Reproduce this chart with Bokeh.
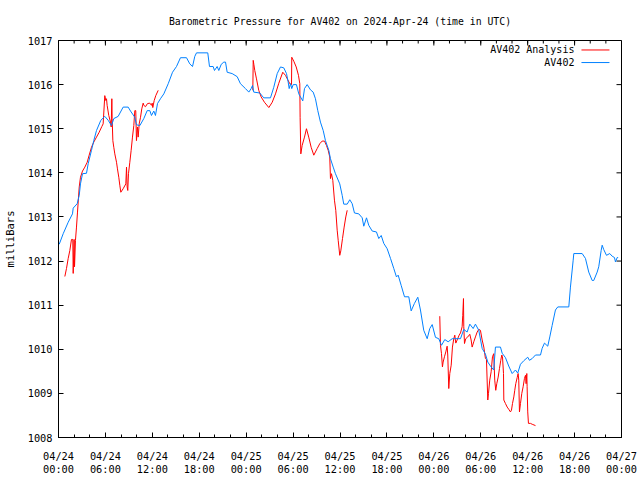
from bokeh.plotting import figure
from bokeh.models import FixedTicker, Label, Arrow, Range1d
from bokeh.embed import file_html
from bokeh.resources import INLINE

NaN = float("nan")

title_text = "Barometric Pressure for AV402 on 2024-Apr-24 (time in UTC)"
y_label = "milliBars"
series_names = ["AV402 Analysis", "AV402"]

# time axis: hours since 2024-04-24 00:00 UTC
x_tick_hours = [0, 6, 12, 18, 24, 30, 36, 42, 48, 54, 60, 66, 72]
x_tick_labels = ["04/24\n00:00", "04/24\n06:00", "04/24\n12:00", "04/24\n18:00",
                 "04/25\n00:00", "04/25\n06:00", "04/25\n12:00", "04/25\n18:00",
                 "04/26\n00:00", "04/26\n06:00", "04/26\n12:00", "04/26\n18:00",
                 "04/27\n00:00"]
x_minor_hours = list(range(0, 73, 2))
y_ticks = [1008, 1009, 1010, 1011, 1012, 1013, 1014, 1015, 1016, 1017]

# AV402 observed pressure
av_hours = [0.09, 0.60, 1.24, 1.79, 1.88, 2.39, 2.65, 2.81, 3.07, 3.58, 3.80, 4.22, 4.51, 4.86,
            5.41, 5.92, 6.36, 6.78, 7.07, 7.63, 8.27, 8.91, 9.21, 9.76, 9.97, 10.40, 10.91,
            11.34, 11.68, 11.89, 12.19, 12.40, 12.66, 13.04, 13.47, 14.03, 14.58, 15.09,
            15.60, 16.37, 16.79, 17.14, 17.43, 17.65, 19.09, 19.31, 19.78, 19.95, 20.29,
            20.50, 20.81, 21.14, 21.36, 21.57, 22.21, 22.85, 23.27, 23.91, 24.34, 24.64,
            24.81, 24.97, 25.74, 26.25, 27.11, 27.53, 27.97, 28.39, 28.81, 29.16, 29.37,
            29.50, 29.67, 29.83, 30.01, 30.43, 30.73, 30.95, 31.24, 31.46, 31.80, 32.23,
            32.57, 32.86, 33.16, 33.50, 33.85, 34.14, 34.57, 34.78, 35.13, 35.42, 35.97,
            36.28, 36.48, 36.92, 37.25, 37.56, 37.85, 38.40, 38.84, 39.04, 39.39, 39.68,
            40.12, 40.66, 40.96, 41.27, 41.60, 42.03, 42.46, 42.88, 43.22, 43.44, 43.82,
            44.25, 44.80, 45.10, 45.52, 45.95, 46.29, 46.71, 47.15, 47.48, 47.79, 48.21,
            48.63, 48.98, 49.40, 49.83, 50.35, 51.41, 51.83, 52.26, 52.60, 53.03, 53.32,
            53.75, 54.18, 54.60, 54.90, 55.24, 55.66, 55.88, 56.52, 56.74, 57.16, 57.58,
            58.02, 58.44, 58.73, 59.08, 59.50, 60.01, 60.23, 60.58, 61.00, 61.64, 61.85,
            62.15, 62.57, 62.83, 63.13, 63.55, 63.85, 65.26, 65.47, 65.82, 65.90, 66.97,
            67.39, 67.81, 68.25, 68.45, 68.89, 69.09, 69.40, 69.53, 69.73, 70.08, 70.50,
            70.81, 71.10, 71.23, 71.45, 71.57]
av_mb = [1012.38, 1012.62, 1012.88, 1013.07, 1013.20, 1013.30, 1013.49, 1013.75, 1013.98,
         1013.99, 1014.21, 1014.51, 1014.73, 1014.96, 1015.19, 1015.28, 1015.19, 1015.07,
         1015.23, 1015.28, 1015.49, 1015.49, 1015.40, 1015.26, 1015.09, 1015.07, 1015.23,
         1015.41, 1015.41, 1015.30, 1015.40, 1015.30, 1015.57, 1015.68, 1015.79, 1016.02,
         1016.28, 1016.41, 1016.61, 1016.61, 1016.47, 1016.41, 1016.64, 1016.72, 1016.72,
         1016.41, 1016.41, 1016.32, 1016.41, 1016.32, 1016.46, 1016.51, 1016.51, 1016.28,
         1016.25, 1016.18, 1016.02, 1015.91, 1015.83, 1015.91, 1015.98, 1015.83, 1015.81,
         1015.70, 1015.70, 1015.94, 1016.25, 1016.40, 1016.38, 1016.25, 1016.06, 1015.91,
         1016.02, 1015.91, 1016.00, 1016.00, 1015.79, 1015.72, 1015.63, 1015.91, 1016.00,
         1015.88, 1015.83, 1015.68, 1015.41, 1015.15, 1014.96, 1014.73, 1014.51, 1014.32,
         1014.13, 1013.98, 1013.75, 1013.49, 1013.29, 1013.29, 1013.39, 1013.30, 1013.09,
         1013.07, 1012.98, 1012.79, 1012.98, 1012.81, 1012.68, 1012.66, 1012.51, 1012.58,
         1012.40, 1012.28, 1012.06, 1011.83, 1011.64, 1011.68, 1011.45, 1011.19, 1011.19,
         1010.87, 1011.04, 1011.18, 1010.89, 1010.43, 1010.24, 1010.47, 1010.56, 1010.27,
         1010.24, 1010.09, 1010.22, 1010.17, 1010.24, 1010.24, 1010.45, 1010.39, 1010.57,
         1010.47, 1010.57, 1010.43, 1010.02, 1009.89, 1009.71, 1009.62, 1009.53, 1010.05,
         1010.05, 1009.91, 1009.81, 1009.62, 1009.45, 1009.53, 1009.46, 1009.66, 1009.74,
         1009.82, 1009.75, 1009.79, 1009.87, 1009.87, 1010.02, 1010.14, 1010.07, 1010.28,
         1010.54, 1010.89, 1010.96, 1010.96, 1011.41, 1012.02, 1012.17, 1012.17, 1012.06,
         1011.75, 1011.56, 1011.56, 1011.75, 1011.87, 1012.24, 1012.36, 1012.26, 1012.13,
         1012.17, 1012.11, 1012.08, 1011.98, 1012.08, 1012.08]

# AV402 Analysis (NaN marks gaps between analysis runs)
an_hours = [0.81, 1.02, 1.24, 1.45, 1.66, 1.83, 1.88, 2.00, 2.05, 2.17, 2.30, 2.43, 2.56, 2.65,
            2.81, 3.07, 3.37, 3.67, 3.92, 4.22, 4.52, 4.86, 5.20, 5.54, 5.71, 5.92, 6.05, 6.14,
            6.22, 6.43, 6.65, 6.74, 6.82, 6.86, 6.95, 7.07, 7.20, 7.42, 7.54, 7.71, 7.84, 7.97,
            8.27, 8.61, 8.70, 8.78, 8.86, 8.95, 9.12, 9.29, 9.46, 9.63, 9.76, 9.88, 9.97,
            10.10, 10.19, 10.32, 10.49, 10.65, 10.83, 10.91, 11.13, 11.38, 11.68, 11.89,
            11.98, 12.06, 12.24, 12.44, 12.75, NaN,
            24.85, 24.90, 24.98, 25.10, 25.32, 25.61, 25.92, 26.34, 26.90, 27.33, 27.75,
            28.17, 28.68, 29.03, 29.32, 29.58, 29.80, 29.83, 30.09, 30.40, 30.69, 30.86,
            30.90, 30.99, 31.16, 31.46, 31.71, 32.00, 32.31, 32.65, 33.08, 33.41, 33.72,
            34.02, 34.27, 34.49, 34.69, 34.78, 34.91, 35.08, 35.29, 35.46, 35.64, 35.77,
            35.97, 36.10, 36.32, 36.53, 36.74, 36.92, NaN,
            48.76, 48.85, 48.98, 49.10, 49.19, 49.36, 49.53, 49.70, 49.78, 49.91, 50.04,
            50.22, 50.38, 50.55, 50.68, 50.81, 50.98, 51.24, 51.41, 51.62, 51.70, 51.79,
            51.83, 51.92, 52.08, 52.34, 52.60, 52.77, 52.90, 53.11, 53.32, 53.54, 53.75,
            53.96, 54.18, 54.39, 54.60, 54.73, 54.90, 54.99, 55.15, 55.33, 55.50, 55.66,
            55.79, 55.92, 56.05, 56.23, 56.39, 56.56, 56.69, 56.78, 56.91, 56.95, 57.16,
            57.38, 57.58, 57.80, 57.93, 58.06, 58.23, 58.35, 58.48, 58.66, 58.78, 58.86,
            58.95, 59.08, 59.25, 59.42, 59.59, 59.72, 59.80, 59.89, 59.93, 60.01, 60.10,
            60.36, 60.58, 61.00]
an_mb = [1011.65, 1011.83, 1012.06, 1012.24, 1012.49, 1012.49, 1011.72, 1012.49, 1011.87,
         1012.47, 1012.77, 1013.11, 1013.45, 1013.68, 1013.90, 1014.04, 1014.13, 1014.24,
         1014.40, 1014.58, 1014.70, 1014.81, 1014.92, 1015.05, 1015.11, 1015.75, 1015.64,
         1015.68, 1015.53, 1015.30, 1015.15, 1015.04, 1015.68, 1015.23, 1014.73, 1014.58,
         1014.43, 1014.24, 1014.09, 1013.90, 1013.72, 1013.56, 1013.64, 1013.75, 1014.13,
         1013.68, 1013.60, 1013.98, 1014.24, 1014.51, 1014.81, 1015.07, 1015.41, 1015.41,
         1014.73, 1015.04, 1014.81, 1015.11, 1015.26, 1015.45, 1015.58, 1015.53, 1015.50,
         1015.57, 1015.58, 1015.53, 1015.58, 1015.48, 1015.64, 1015.75, 1015.87, NaN,
         1015.87, 1016.55, 1016.46, 1016.32, 1016.13, 1015.87, 1015.72, 1015.60, 1015.48,
         1015.60, 1015.79, 1016.03, 1016.28, 1016.21, 1016.11, 1016.02, 1016.00, 1016.62,
         1016.53, 1016.40, 1016.21, 1016.02, 1015.26, 1014.43, 1014.62, 1014.81, 1015.00,
         1014.81, 1014.58, 1014.40, 1014.55, 1014.66, 1014.72, 1014.72, 1014.62, 1014.51,
         1014.36, 1013.87, 1013.98, 1013.83, 1013.38, 1013.15, 1012.70, 1012.47, 1012.13,
         1012.23, 1012.51, 1012.77, 1013.00, 1013.15, NaN,
         1010.75, 1010.09, 1009.90, 1009.60, 1009.71, 1009.83, 1009.94, 1010.07, 1009.87,
         1009.11, 1009.45, 1009.64, 1010.05, 1010.24, 1010.32, 1010.14, 1010.21, 1010.32,
         1010.37, 1010.51, 1010.77, 1011.15, 1010.51, 1010.13, 1010.24, 1010.28, 1010.34,
         1010.21, 1010.05, 1010.17, 1010.28, 1010.39, 1010.45, 1010.43, 1010.21, 1010.05,
         1009.79, 1009.77, 1008.85, 1009.00, 1009.30, 1009.49, 1009.83, 1009.90, 1009.30,
         1009.07, 1009.22, 1009.37, 1009.56, 1009.75, 1009.87, 1009.83, 1009.45, 1008.85,
         1008.77, 1008.69, 1008.64, 1008.58, 1008.62, 1008.77, 1008.92, 1009.07, 1009.22,
         1009.36, 1009.45, 1009.30, 1008.58, 1008.77, 1009.00, 1009.15, 1009.34, 1009.41,
         1009.22, 1009.45, 1009.15, 1008.58, 1008.32, 1008.32, 1008.30, 1008.27]

RED = "#ff0000"
BLUE = "#0080ff"
FONT = "DejaVu Sans Mono"
FS = "10.3px"

W, H = 640, 480
BL, BR, BT, BB = 58, 19, 40, 43

p = figure(width=W, height=H, output_backend="svg", toolbar_location=None,
           x_range=Range1d(x_tick_hours[0], x_tick_hours[-1]),
           y_range=Range1d(y_ticks[0], y_ticks[-1]),
           min_border_left=BL, min_border_right=BR, min_border_top=BT, min_border_bottom=BB,
           title=title_text)
p.title.text_font = FONT
p.title.text_font_size = "9.8px"
p.title.text_font_style = "normal"
p.title.text_color = "black"
p.title.align = "center"
p.title.standoff = 27
p.background_fill_color = "white"
p.border_fill_color = "white"
p.outline_line_color = "black"
p.outline_line_width = 1
p.grid.visible = False

xt = FixedTicker(ticks=x_tick_hours, minor_ticks=x_minor_hours)
yt = FixedTicker(ticks=y_ticks)

for ax in p.xaxis:
    ax.ticker = xt
    ax.major_label_overrides = {h: lab for h, lab in zip(x_tick_hours, x_tick_labels)}
for ax in p.yaxis:
    ax.ticker = yt
    ax.axis_label = y_label

for ax in list(p.xaxis) + list(p.yaxis):
    ax.major_label_text_font = FONT
    ax.major_label_text_font_size = FS
    ax.major_label_text_color = "black"
    ax.axis_label_text_font = FONT
    ax.axis_label_text_font_size = "10.5px"
    ax.axis_label_text_font_style = "normal"
    ax.axis_label_text_color = "black"
    ax.major_tick_in = 5
    ax.major_tick_out = 0
    ax.minor_tick_in = 3
    ax.minor_tick_out = 0
    ax.axis_line_color = "black"
p.xaxis.major_label_standoff = 12
p.xaxis.major_label_text_line_height = 1.15
p.yaxis.major_label_standoff = 6
p.yaxis.axis_label_standoff = 9

# mirrored inward ticks on the top and right frame edges (lengths in pixels -> data units)
fw = W - BL - BR
fh = H - BT - BB
xpp = (x_tick_hours[-1] - x_tick_hours[0]) / fw
ypp = (y_ticks[-1] - y_ticks[0]) / fh
ytop, xright = y_ticks[-1], x_tick_hours[-1]
p.segment(x0=x_tick_hours, y0=[ytop] * len(x_tick_hours), x1=x_tick_hours,
          y1=[ytop - 5 * ypp] * len(x_tick_hours), line_color="black", line_width=1)
p.segment(x0=x_minor_hours, y0=[ytop] * len(x_minor_hours), x1=x_minor_hours,
          y1=[ytop - 3 * ypp] * len(x_minor_hours), line_color="black", line_width=1)
p.segment(x0=[xright] * len(y_ticks), y0=y_ticks, x1=[xright - 5 * xpp] * len(y_ticks),
          y1=y_ticks, line_color="black", line_width=1)

p.line(an_hours, an_mb, line_color=RED, line_width=1)
p.line(av_hours, av_mb, line_color=BLUE, line_width=1)

# legend (gnuplot style: label then sample line)
leg_y = [1016.785, 1016.50]
leg_colors = [RED, BLUE]
for name, yy, col in zip(series_names, leg_y, leg_colors):
    p.add_layout(Label(x=65.98, y=yy, text=name, text_align="right", text_baseline="middle",
                       text_font=FONT, text_font_size="10px", text_font_style="normal",
                       text_color="black"))
    p.add_layout(Arrow(end=None, x_start=66.88, y_start=yy, x_end=70.46, y_end=yy,
                       line_color=col, line_width=1))

open("out.html", "w").write(file_html(p, INLINE))
